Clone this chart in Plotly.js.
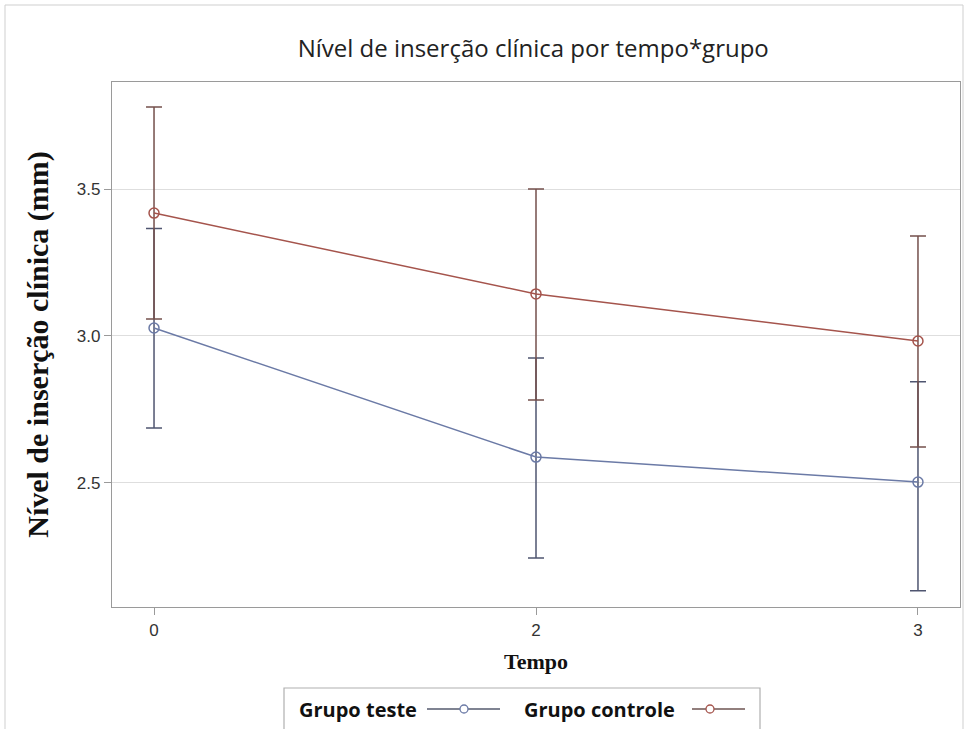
<!DOCTYPE html>
<html>
<head>
<meta charset="utf-8">
<script src="https://cdn.plot.ly/plotly-3.0.1.min.js"></script>
<style>html,body{margin:0;padding:0;background:#fff;}#chart{width:966px;height:729px;}</style>
</head>
<body>
<div id="chart"></div>
<script>
const tempo = ['0', '2', '3'];
const testeMean = [3.027, 2.588, 2.503];
const testeUpper = [3.366, 2.925, 2.844];
const testeLower = [2.687, 2.245, 2.133];
const controleMean = [3.418, 3.143, 2.983];
const controleUpper = [3.779, 3.500, 3.340];
const controleLower = [3.058, 2.782, 2.622];
const seriesNames = ['Grupo teste', 'Grupo controle'];

const blue = '#6b7aa6';
const red = '#a5544c';
const blueErr = '#4f5570';
const redErr = '#74504c';

function mk(name, mean, up, lo, col, errCol) {
  return {
    type: 'scatter', mode: 'lines+markers', name: name,
    x: tempo, y: mean,
    line: {color: col, width: 1.5},
    marker: {symbol: 'circle-open', size: 10, color: col, line: {width: 1.5, color: col}},
    error_y: {type: 'data', symmetric: false,
      array: mean.map((m, i) => up[i] - m),
      arrayminus: mean.map((m, i) => m - lo[i]),
      color: errCol, thickness: 1.5, width: 8},
    showlegend: false
  };
}

const data = [
  mk(seriesNames[0], testeMean, testeUpper, testeLower, blue, blueErr),
  mk(seriesNames[1], controleMean, controleUpper, controleLower, red, redErr)
];

// legend geometry (paper coords)
const W = 848, H = 525, L = 112, T = 82;
const px = v => (v - L) / W;
const py = v => (T + H - v) / H;
const ly = py(709);

const layout = {
  width: 966, height: 729,
  margin: {l: 112, r: 6, t: 82, b: 122},
  paper_bgcolor: '#fff', plot_bgcolor: '#fff',
  title: {text: 'Nível de inserção clínica por tempo*grupo',
    font: {family: 'Open Sans, sans-serif', size: 24, color: '#222'},
    x: 0.552, xanchor: 'center', y: 0.934, yanchor: 'middle'},
  xaxis: {type: 'category', range: [-0.11, 2.11],
    showgrid: false, zeroline: false,
    showline: true, mirror: true, linecolor: '#9a9a9a', linewidth: 1.2,
    ticks: 'outside', ticklen: 7, tickcolor: '#9a9a9a',
    tickfont: {family: 'Liberation Sans, Arial, sans-serif', size: 17, color: '#333'},
    title: {text: '<b>Tempo</b>', standoff: 15,
      font: {family: 'Liberation Serif, Times New Roman, serif', size: 22, color: '#111'}}},
  yaxis: {range: [2.078, 3.864], tick0: 2.5, dtick: 0.5, tickformat: '.1f',
    showgrid: true, gridcolor: '#dedede', gridwidth: 1, zeroline: false,
    showline: true, mirror: true, linecolor: '#9a9a9a', linewidth: 1.2,
    ticks: 'outside', ticklen: 7, tickcolor: '#9a9a9a',
    tickfont: {family: 'Liberation Sans, Arial, sans-serif', size: 17, color: '#333'},
    title: {text: '<b>Nível de inserção clínica (mm)</b>', standoff: 19,
      font: {family: 'Liberation Serif, Times New Roman, serif', size: 30, color: '#111'}}},
  shapes: [
    {type: 'rect', xref: 'paper', yref: 'paper', x0: px(5), x1: px(963), y0: py(760), y1: py(5),
      line: {color: '#cfcfcf', width: 1}, layer: 'below'},
    {type: 'rect', xref: 'paper', yref: 'paper', x0: px(284), x1: px(760), y0: py(760), y1: py(688),
      line: {color: '#b0b0b0', width: 1.2}},
    {type: 'line', xref: 'paper', yref: 'paper', x0: px(427), x1: px(500), y0: ly, y1: ly,
      line: {color: '#555a6e', width: 1.3}},
    {type: 'circle', xref: 'paper', yref: 'paper', x0: px(460), x1: px(468), y0: py(713), y1: py(705),
      fillcolor: '#fff', line: {color: blue, width: 1.3}},
    {type: 'line', xref: 'paper', yref: 'paper', x0: px(692), x1: px(745), y0: ly, y1: ly,
      line: {color: '#6e5552', width: 1.3}},
    {type: 'circle', xref: 'paper', yref: 'paper', x0: px(706), x1: px(714), y0: py(713), y1: py(705),
      fillcolor: '#fff', line: {color: red, width: 1.3}}
  ],
  annotations: [
    {xref: 'paper', yref: 'paper', x: px(297), y: ly, xanchor: 'left', yanchor: 'middle',
      text: '<b>' + seriesNames[0] + '</b>', showarrow: false,
      font: {family: 'Open Sans, sans-serif', size: 20, color: '#111'}},
    {xref: 'paper', yref: 'paper', x: px(522), y: ly, xanchor: 'left', yanchor: 'middle',
      text: '<b>' + seriesNames[1] + '</b>', showarrow: false,
      font: {family: 'Open Sans, sans-serif', size: 20, color: '#111'}}
  ]
};

Plotly.newPlot('chart', data, layout, {displayModeBar: false, staticPlot: true});
</script>
</body>
</html>
